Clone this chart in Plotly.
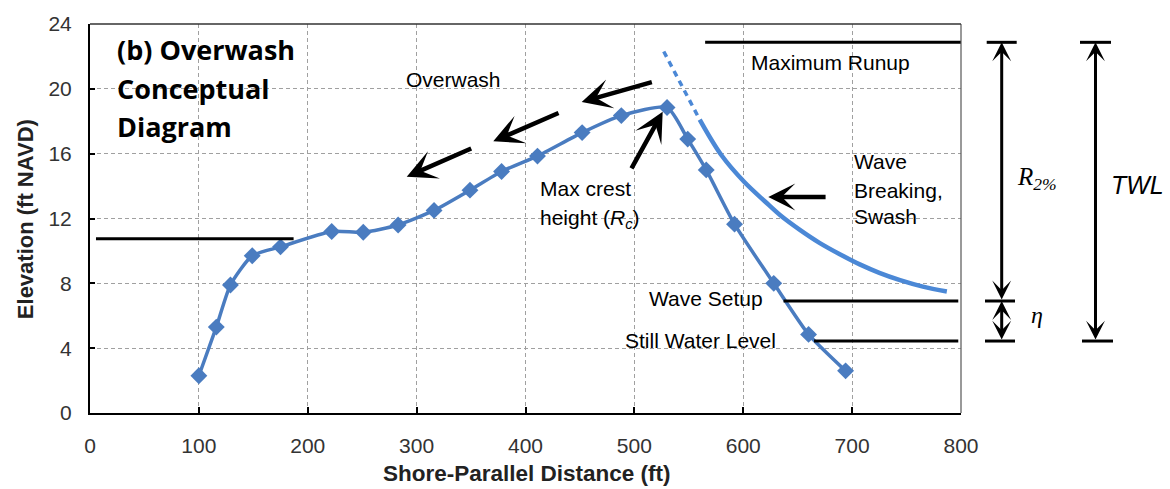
import plotly.graph_objects as go

# ---------------- data ----------------
profile_x = [100, 116, 129, 149, 175, 222, 251, 283, 316, 349, 378, 411, 452, 488, 530, 549, 566, 592, 628, 660, 694]
profile_y = [2.3, 5.3, 7.9, 9.7, 10.25, 11.2, 11.15, 11.6, 12.5, 13.75, 14.9, 15.85, 17.3, 18.35, 18.85, 16.9, 15.0, 11.65, 8.0, 4.85, 2.6]

runup_dash_x = [527, 560]
runup_dash_y = [22.3, 18.1]
runup_x = [560, 580, 601, 620, 634, 652, 670, 690, 707, 725, 744, 765, 787]
runup_y = [18.1, 15.9, 14.25, 13.05, 12.2, 11.3, 10.5, 9.75, 9.17, 8.65, 8.2, 7.8, 7.5]

x_ticks = [0, 100, 200, 300, 400, 500, 600, 700, 800]
y_ticks = [0, 4, 8, 12, 16, 20, 24]

max_runup = 22.87
wave_setup = 6.91
swl = 4.44
left_level = 10.75

BLUE = '#4a7cc0'
BLUE2 = '#4b88d6'
FONT = 'Liberation Sans'

fig = go.Figure()

fig.add_trace(go.Scatter(x=runup_dash_x, y=runup_dash_y, mode='lines',
                         line=dict(color=BLUE2, width=3.5, dash='6px,5px'), showlegend=False))
fig.add_trace(go.Scatter(x=runup_x, y=runup_y, mode='lines',
                         line=dict(color=BLUE2, width=4.5, shape='spline', smoothing=1.0), showlegend=False))
fig.add_trace(go.Scatter(x=profile_x, y=profile_y, mode='lines+markers',
                         line=dict(color=BLUE, width=3.5, shape='spline', smoothing=0.6),
                         marker=dict(symbol='diamond', size=13, color=BLUE),
                         showlegend=False))

shapes = []
# horizontal level lines inside plot
for x0, x1, yv in [(5.5, 187, left_level), (565, 800, max_runup), (637, 797.5, wave_setup), (665, 797.5, swl)]:
    shapes.append(dict(type='line', xref='x', yref='y', x0=x0, x1=x1, y0=yv, y1=yv,
                       line=dict(color='black', width=3)))
# right border
shapes.append(dict(type='line', xref='paper', yref='paper', x0=1, x1=1, y0=0, y1=1,
                   line=dict(color='#555555', width=1.2)))


def px2paper(px):
    return (px - 90) / 871.0

# caps outside the plot
for a, b, yv in [(986.7, 1016.7, max_runup), (985, 1015, wave_setup), (985, 1015, swl),
                 (1080, 1111, max_runup), (1082, 1113, swl)]:
    shapes.append(dict(type='line', xref='paper', yref='y', x0=px2paper(a), x1=px2paper(b),
                       y0=yv, y1=yv, line=dict(color='black', width=3)))

annotations = []


def arrow(x, y, ax, ay, width=4, size=1.0, xref='x', axref='x', both=False):
    d = dict(x=x, y=y, ax=ax, ay=ay, xref=xref, yref='y', axref=axref, ayref='y',
             text='', showarrow=True, arrowhead=3, arrowsize=size, arrowwidth=width,
             arrowcolor='black', standoff=0, startstandoff=0)
    if both:
        d.update(arrowside='end+start', startarrowhead=3, startarrowsize=size)
    annotations.append(d)

# overwash arrows
arrow(451.6, 19.19, 517.4, 20.44, width=4.5, size=1.1)
arrow(370.4, 16.76, 431.7, 18.55, width=4.5, size=1.1)
arrow(290.9, 14.58, 351.5, 16.36, width=4.5, size=1.1)
# crest arrow
arrow(526, 18.58, 496.6, 15.0, width=4.5, size=1.1)
# wave breaking arrow
arrow(623, 13.33, 677, 13.33, width=4.5, size=1.0)

# right-side vertical arrows
xr = px2paper(1001.7)
xt = px2paper(1095.5)
arrow(xr, max_runup, 0, wave_setup, width=3, size=1.05, xref='paper', axref='pixel', both=True)
arrow(xr, wave_setup, 0, swl, width=3, size=1.05, xref='paper', axref='pixel', both=True)
arrow(xt, max_runup, 0, swl, width=3, size=1.05, xref='paper', axref='pixel', both=True)


def label(x, y, text, size=21, xanchor='left', xref='x', family=FONT, color='black'):
    annotations.append(dict(x=x, y=y, xref=xref, yref='y', text=text, showarrow=False,
                            xanchor=xanchor, yanchor='middle',
                            font=dict(family=family, size=size, color=color)))

label(288.4, 20.6, 'Overwash')
label(411.5, 13.85, 'Max crest')
label(411.5, 12.0, 'height (<i>R<sub>c</sub></i>)')
label(605.3, 21.6, 'Maximum Runup')
label(699.5, 15.5, 'Wave')
label(699.5, 13.73, 'Breaking,')
label(699.5, 12.15, 'Swash')
label(511.3, 7.05, 'Wave Setup')
label(489.3, 4.45, 'Still Water Level')

for yy, t in [(22.4, '(b) Overwash'), (20.0, 'Conceptual'), (17.65, 'Diagram')]:
    label(23, yy, '<b>' + t + '</b>', size=27, family='Open Sans')

label(px2paper(1037), 14.44, '<i>R<sub>2%</sub></i>', size=25, xanchor='center', xref='paper',
      family='Liberation Serif')
label(px2paper(1037), 6.06, '<i>η</i>', size=24, xanchor='center', xref='paper', family='Liberation Serif')
label(px2paper(1137), 14.04, '<i>TWL</i>', size=25, xanchor='center', xref='paper')

# axis titles
annotations.append(dict(x=px2paper(25), y=11.96, xref='paper', yref='y', text='<b>Elevation (ft NAVD)</b>',
                        showarrow=False, textangle=-90, xanchor='center', yanchor='middle',
                        font=dict(family=FONT, size=22, color='#222222')))
annotations.append(dict(x=401, y=(413.3 - 475) / 396.3, xref='x', yref='paper',
                        text='<b>Shore-Parallel Distance (ft)</b>', showarrow=False,
                        xanchor='center', yanchor='middle',
                        font=dict(family=FONT, size=22.5, color='#222222')))

fig.update_layout(
    width=1170, height=489,
    margin=dict(l=90, r=209, t=17, b=76),
    paper_bgcolor='white', plot_bgcolor='white',
    shapes=shapes, annotations=annotations,
    xaxis=dict(range=[0, 800], tickvals=x_ticks, showgrid=True, gridcolor='#a0a0a0',
               griddash='4px,3px', gridwidth=1, showline=True, linecolor='black', linewidth=2,
               mirror=False, ticks='inside', ticklen=6, tickwidth=1.5, tickcolor='black',
               tickfont=dict(family=FONT, size=21, color='#333333'), ticklabelstandoff=13,
               zeroline=False, fixedrange=True),
    yaxis=dict(range=[0, 24], tickvals=y_ticks, showgrid=True, gridcolor='#a0a0a0',
               griddash='4px,3px', gridwidth=1, showline=True, linecolor='black', linewidth=2,
               ticks='inside', ticklen=5, tickwidth=1.5, tickcolor='black',
               tickfont=dict(family=FONT, size=21, color='#333333'), ticklabelstandoff=12,
               zeroline=False, fixedrange=True),
)
# top border
fig.add_shape(type='line', xref='paper', yref='paper', x0=0, x1=1, y0=1, y1=1,
              line=dict(color='#333333', width=1.5))

fig.write_html('out.html')
